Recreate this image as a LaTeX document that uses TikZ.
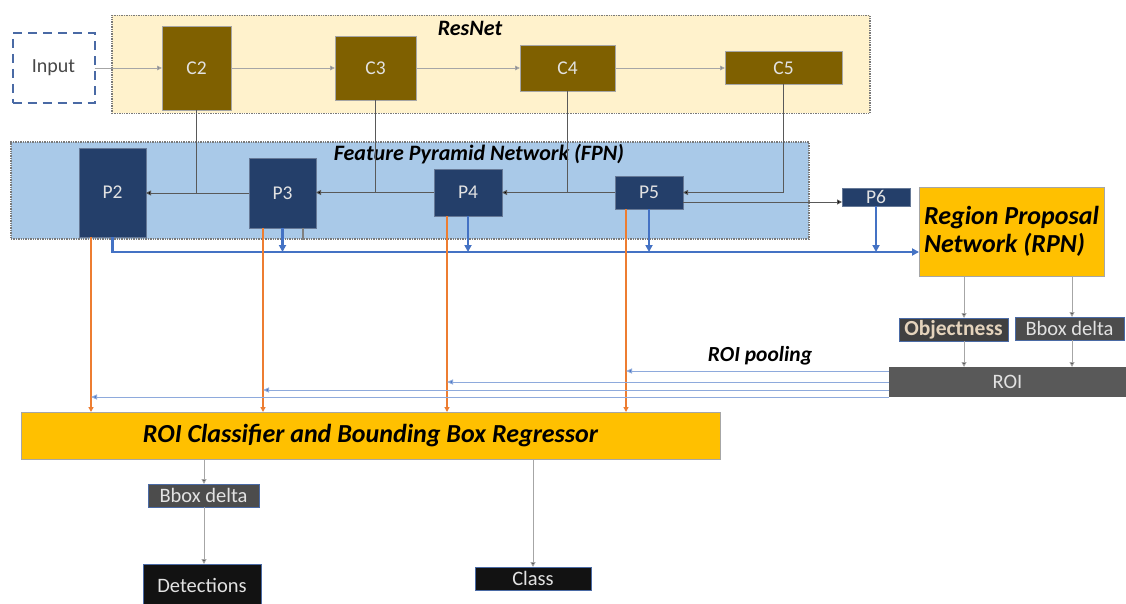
\documentclass[tikz,border=0pt]{standalone}
\usepackage{fontspec}
\setmainfont{Carlito}
\usetikzlibrary{arrows.meta}

\definecolor{cream}{HTML}{FFF2CC}
\definecolor{fpnblue}{HTML}{A9C9E8}
\definecolor{cbrown}{HTML}{7F6000}
\definecolor{pnavy}{HTML}{243F6A}
\definecolor{gold}{HTML}{FFC000}
\definecolor{linkblue}{HTML}{4472C4}
\definecolor{roiblue}{HTML}{8EAADC}
\definecolor{orangeln}{HTML}{ED7D31}
\definecolor{dashblue}{HTML}{4A6AA5}
\definecolor{lightgrayln}{HTML}{A6A6A6}
\definecolor{darkgrayln}{HTML}{595959}
\definecolor{boxtext}{HTML}{E2E2E2}
\definecolor{objtext}{HTML}{E4D3BC}

\tikzset{
  blk/.style={inner sep=0pt, outer sep=0pt, align=center},
  group/.style={blk, draw=darkgrayln!80, densely dotted, line width=1.4pt},
  cblock/.style={blk, fill=cbrown, draw=lightgrayln, line width=0.8pt,
    text=boxtext, font=\fontsize{19.5}{21}\selectfont},
  pblock/.style={blk, fill=pnavy, draw=pnavy!70!white, line width=0.8pt,
    text=boxtext, font=\fontsize{19.5}{21}\selectfont},
  goldbox/.style={blk, fill=gold, draw=lightgrayln, line width=0.8pt,
    font=\bfseries\itshape\fontsize{26}{29}\selectfont},
  darkbox/.style={blk, draw=dashblue, line width=0.8pt, text=boxtext,
    font=\fontsize{20.5}{22}\selectfont},
  titletext/.style={font=\bfseries\itshape\fontsize{22}{24}\selectfont, inner sep=0pt},
  resarrow/.style={draw=lightgrayln, line width=0.9pt,
    -{Triangle[length=5pt,width=4.5pt,fill=gray]}},
  fpnline/.style={draw=darkgrayln, line width=0.9pt},
  fpnarrow/.style={fpnline, -{Triangle[length=5pt,width=5pt,fill=black]}},
  busline/.style={draw=linkblue, line width=2.2pt},
  busarrow/.style={busline, -{Triangle[length=7pt,width=7pt]}},
  orangearrow/.style={draw=orangeln, line width=1.3pt,
    -{Triangle[length=5pt,width=5pt]}},
  roiarrow/.style={draw=roiblue, line width=1pt,
    -{Triangle[length=6pt,width=5pt,fill=linkblue]}},
  grayarrow/.style={draw=lightgrayln, line width=1pt,
    -{Triangle[length=5pt,width=5pt,fill=black]}}
}

\begin{document}
\begin{tikzpicture}[x=1pt,y=-1pt]
\useasboundingbox (0,0) rectangle (1126,604);
\fill[white] (0,0) rectangle (1126,604);

% backbone and pyramid groups
\node[group, fill=cream, minimum width=758pt, minimum height=98pt] (resnet) at (491,64.5) {};
\node[titletext] (resnettitle) at (470,28) {ResNet};
\node[group, fill=fpnblue, minimum width=798pt, minimum height=97pt] (fpn) at (410,190.5) {};
\node[titletext] (fpntitle) at (479,154) {Feature Pyramid Network (FPN)};

% input
\node[blk, draw=dashblue, dash pattern=on 9pt off 6pt, line width=2pt,
  minimum width=82pt, minimum height=70pt, font=\fontsize{20}{22}\selectfont,
  text=darkgrayln!80!black] (input) at (53.5,68) {Input};

% ResNet stages
\node[cblock, minimum width=69pt, minimum height=84pt] (c2) at (196.5,68) {C2};
\node[cblock, minimum width=81pt, minimum height=64pt] (c3) at (375.5,68) {C3};
\node[cblock, minimum width=95pt, minimum height=46pt] (c4) at (567.5,68) {C4};
\node[cblock, minimum width=117pt, minimum height=33pt] (c5) at (783.5,68) {C5};

% pyramid levels
\node[pblock, minimum width=67pt, minimum height=89pt] (p2) at (112.5,192.5) {P2};
\node[pblock, minimum width=67pt, minimum height=70pt] (p3) at (282.5,193) {P3};
\node[pblock, minimum width=68pt, minimum height=47pt] (p4) at (468,192.5) {P4};
\node[pblock, minimum width=68pt, minimum height=33pt] (p5) at (649,192.5) {P5};
\node[pblock, minimum width=68pt, minimum height=18pt] (p6) at (876,197) {P6};

% region proposal network
\node[goldbox, minimum width=185pt, minimum height=89pt, align=left] (rpn) at (1011.5,231.5)
  {Region Proposal\\[-1pt]Network (RPN)};
\node[darkbox, fill=black!75, minimum width=109pt, minimum height=23pt,
  text=objtext, font=\bfseries\fontsize{21.5}{23}\selectfont] (obj) at (953.5,329.5) {Objectness};
\node[darkbox, fill=black!70, minimum width=109pt, minimum height=23pt] (rpnbbox) at (1069.5,328.5) {Bbox delta};
\node[blk, fill=darkgrayln, minimum width=237pt, minimum height=30pt, text=boxtext,
  font=\fontsize{20.5}{22}\selectfont] (roi) at (1007.5,382) {ROI};
\node[titletext, font=\bfseries\itshape\fontsize{21.5}{23}\selectfont] (pooltext) at (760,356) {ROI pooling};

% heads
\node[goldbox, minimum width=699pt, minimum height=47pt,
  font=\bfseries\itshape\fontsize{26}{28}\selectfont] (cls) at (370.5,435.5)
  {ROI Classifier and Bounding Box Regressor};
\node[darkbox, fill=black!70, minimum width=111pt, minimum height=23pt] (bbox) at (203.5,495.5) {Bbox delta};
\node[darkbox, fill=black!93, minimum width=118pt, minimum height=42pt] (det) at (202,585) {Detections};
\node[darkbox, fill=black!93, minimum width=116pt, minimum height=23pt] (class) at (533,578.5) {Class};

% backbone flow
\draw[resarrow] (input) -- (c2);
\draw[resarrow] (c2) -- (c3);
\draw[resarrow] (c3) -- (c4);
\draw[resarrow] (c4.east) -- (c5.west |- c4.east);

% lateral and top-down connections
\draw[fpnline] (c2.south) -- (c2.south |- p3.west);
\draw[fpnarrow] (p3.west) -- (p3.west -| p2.east);
\draw[fpnline] (c3.south) -- (c3.south |- p4.west);
\draw[fpnarrow] (p4.west) -- (p4.west -| p3.east);
\draw[fpnline] (c4.south) -- (c4.south |- p5.west);
\draw[fpnarrow] (p5.west) -- (p5.west -| p4.east);
\draw[fpnarrow] (c5.south) |- (p5.east);
\coordinate (p5out) at ([yshift=-9.5pt]p5.east);
\draw[fpnarrow] (p5out) -- (p5out -| p6.west);
\coordinate (p3stub) at ([xshift=20.5pt]p3.south);
\draw[draw=gray, line width=1.2pt] (p3stub) -- ++(0,12);

% feature bus into the RPN
\coordinate (bus) at (0,252);
\draw[busarrow] (p2.south) |- (rpn.west |- bus);
\foreach \p in {p3,p4,p5,p6}
  \draw[busarrow] (\p.south) -- (\p.south |- bus);

% features into the classifier
\coordinate (o2) at ([xshift=-21.5pt]p2.south);
\coordinate (o3) at ([xshift=-19.5pt]p3.south);
\coordinate (o4) at ([xshift=-21pt]p4.south);
\coordinate (o5) at ([xshift=-23pt]p5.south);
\foreach \o in {o2,o3,o4,o5}
  \draw[orangearrow] (\o) -- (\o |- cls.north);

% RPN outputs
\coordinate (ax1) at (964,0);
\coordinate (ax2) at (1072,0);
\draw[grayarrow] (rpn.south -| ax1) -- (obj.north -| ax1);
\draw[grayarrow] (rpn.south -| ax2) -- (rpnbbox.north -| ax2);
\draw[grayarrow] (obj.south -| ax1) -- (roi.north -| ax1);
\draw[grayarrow] (rpnbbox.south -| ax2) -- (roi.north -| ax2);

% ROI pooling to each level
\coordinate (r5) at (0,371);
\coordinate (r4) at (0,382);
\coordinate (r3) at (0,390);
\coordinate (r2) at (0,397);
\draw[roiarrow] (roi.west |- r5) -- (o5 |- r5);
\draw[roiarrow] (roi.west |- r4) -- (o4 |- r4);
\draw[roiarrow] (roi.west |- r3) -- (o3 |- r3);
\draw[roiarrow] (roi.west |- r2) -- (o2 |- r2);

% heads outputs
\coordinate (hx1) at (204,0);
\draw[grayarrow] (cls.south -| hx1) -- (bbox.north -| hx1);
\draw[grayarrow] (bbox.south -| hx1) -- (det.north -| hx1);
\draw[grayarrow] (cls.south -| class.north) -- (class.north);
\end{tikzpicture}
\end{document}
